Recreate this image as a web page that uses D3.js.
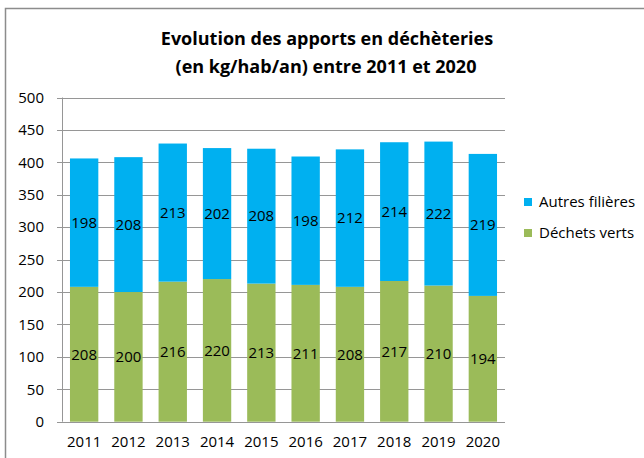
<!DOCTYPE html>
<html lang="fr">
<head>
    <meta charset="UTF-8">
    <title>Evolution des apports en déchèteries</title>
    <script src="https://cdnjs.cloudflare.com/ajax/libs/d3/7.8.5/d3.min.js"></script>
    <style>
        body{
            margin: 0;
            background-color: #ffffff;
        }
        .textos{
            font-family: 'Open Sans', sans-serif;
            font-size: 15px;
            fill: #000000;
        }
        .titulo{
            font-family: 'Open Sans', sans-serif;
            font-weight: 700;
            font-size: 18px;
        }
    </style>
</head>
<body>
    <div id="grafico"></div>

<script>
var annees = ["2011", "2012", "2013", "2014", "2015", "2016", "2017", "2018", "2019", "2020"];
var dechetsVerts = [208, 200, 216, 220, 213, 211, 208, 217, 210, 194];
var autresFilieres = [198, 208, 213, 202, 208, 198, 212, 214, 222, 219];
var series = ["Déchets verts", "Autres filières"];
var couleurs = ["#9bbb59", "#00b0f0"];
var yTicks = [0, 50, 100, 150, 200, 250, 300, 350, 400, 450, 500];

var w = 644;
var h = 458;
var izq = 62, der = 505, arriba = 97.5, abajo = 421.7;

// tabla para d3.stack
var tabla = annees.map(function(a, i){
    return {annee: a, "Déchets verts": dechetsVerts[i], "Autres filières": autresFilieres[i]};
});
var pilas = d3.stack().keys(series)(tabla);

var xScale = d3.scaleBand()
    .domain(annees)
    .range([izq, der])
    .paddingInner(0.36)
    .paddingOuter(0.18);
var yScale = d3.scaleLinear()
    .domain([0, 500])
    .range([abajo, arriba]);

var grafico = d3.select("#grafico")
    .append("svg")
    .attr("width", w)
    .attr("height", h);

// marco exterior
grafico.append("rect")
    .attr("x", 5.5).attr("y", 8.5)
    .attr("width", 660).attr("height", 470)
    .attr("fill", "none")
    .attr("stroke", "#8c8c8c")
    .attr("stroke-width", 1.5);

// titulo
var titulo = grafico.append("text")
    .classed("titulo", true)
    .attr("text-anchor", "middle");
titulo.append("tspan").attr("x", 327).attr("y", 45).text("Evolution des apports en déchèteries");
titulo.append("tspan").attr("x", 326).attr("y", 73).text("(en kg/hab/an) entre 2011 et 2020");

// lineas de la grilla
grafico.selectAll(".grid")
    .data(yTicks)
    .enter()
    .append("line")
    .attr("x1", izq - 5)
    .attr("x2", der)
    .attr("y1", function(d){ return Math.round(yScale(d)) + 0.5 })
    .attr("y2", function(d){ return Math.round(yScale(d)) + 0.5 })
    .attr("stroke", "#969696")
    .attr("stroke-width", 1);

// eje vertical
grafico.append("line")
    .attr("x1", izq + 0.5).attr("x2", izq + 0.5)
    .attr("y1", arriba).attr("y2", abajo)
    .attr("stroke", "#969696");

grafico.selectAll(".ytick")
    .data(yTicks)
    .enter()
    .append("text")
    .classed("textos", true)
    .attr("x", 44)
    .attr("y", function(d){ return yScale(d) })
    .attr("dy", "0.35em")
    .attr("text-anchor", "end")
    .text(function(d){ return d });

// barras
var grupos = grafico.selectAll(".serie")
    .data(pilas)
    .enter()
    .append("g")
    .attr("fill", function(d, i){ return couleurs[i] });

grupos.selectAll("rect")
    .data(function(d){ return d })
    .enter()
    .append("rect")
    .attr("x", function(d){ return xScale(d.data.annee) })
    .attr("width", xScale.bandwidth())
    .attr("y", function(d){ return yScale(d[1]) })
    .attr("height", function(d){ return yScale(d[0]) - yScale(d[1]) });

// valores
grupos.selectAll("text")
    .data(function(d){ return d })
    .enter()
    .append("text")
    .classed("textos", true)
    .attr("x", function(d){ return xScale(d.data.annee) + xScale.bandwidth() / 2 })
    .attr("y", function(d){ return (yScale(d[0]) + yScale(d[1])) / 2 })
    .attr("dy", "0.35em")
    .attr("text-anchor", "middle")
    .text(function(d){ return d[1] - d[0] });

// etiquetas eje x
grafico.selectAll(".xtick")
    .data(annees)
    .enter()
    .append("text")
    .classed("textos", true)
    .attr("x", function(d){ return xScale(d) + xScale.bandwidth() / 2 })
    .attr("y", 442)
    .attr("dy", "0.35em")
    .attr("text-anchor", "middle")
    .text(function(d){ return d });

// leyenda
var leyenda = grafico.selectAll(".leyenda")
    .data(series.slice().reverse())
    .enter()
    .append("g")
    .attr("transform", function(d, i){ return "translate(524," + (202 + i * 31) + ")" });
leyenda.append("rect")
    .attr("x", 0).attr("y", -4)
    .attr("width", 8).attr("height", 8)
    .attr("fill", function(d){ return couleurs[series.indexOf(d)] });
leyenda.append("text")
    .classed("textos", true)
    .attr("x", 15)
    .attr("y", 0)
    .attr("dy", "0.35em")
    .text(function(d){ return d });
</script>
</body>
</html>
